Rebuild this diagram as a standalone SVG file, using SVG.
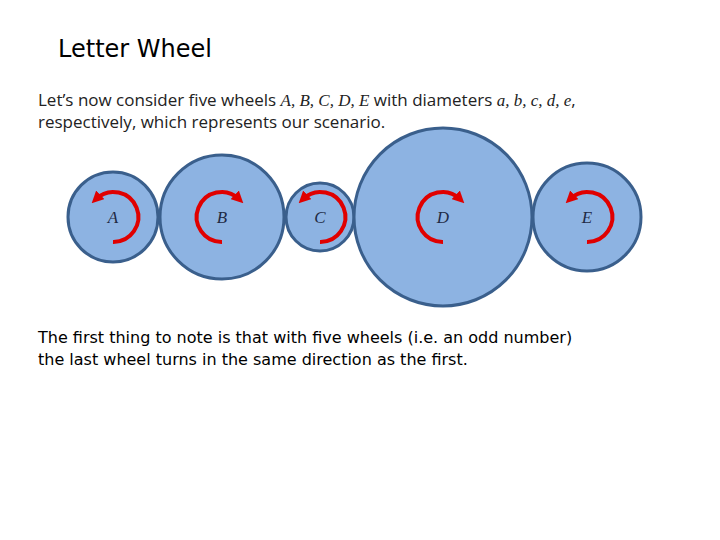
<svg xmlns="http://www.w3.org/2000/svg" width="720" height="540" viewBox="0 0 720 540">
<style>
.w{fill:#8db3e2;stroke:#3a5f8c;stroke-width:3}
.r{fill:none;stroke:#e00000;stroke-width:4}
.l{font-family:"Liberation Serif",serif;font-style:italic;font-size:17px;fill:#1f2a44;text-anchor:middle}
.t{font-family:"DejaVu Sans",sans-serif;font-size:16px;fill:#000}
.c{font-family:"Open Sans",sans-serif;font-size:17px;fill:#222}
.m{font-family:"Liberation Serif",serif;font-style:italic}
</style>
<defs>
<marker id="ah" viewBox="0 0 10 10" refX="5" refY="5" markerWidth="3" markerHeight="3" orient="auto"><path d="M0,0L10,5L0,10z" fill="#e00000"/></marker>
</defs>
<rect width="720" height="540" fill="#fff"/>
<text x="58" y="57" style="font-family:'DejaVu Sans',sans-serif;font-size:24px">Letter Wheel</text>
<text x="38" y="106" class="c">Let’s now consider five wheels <tspan class="m">A, B, C, D, E</tspan> with diameters <tspan class="m">a, b, c, d, e</tspan>,</text>
<text x="38" y="128" class="c">respectively, which represents our scenario.</text>
<g id="A"><circle class="w" cx="113" cy="217" r="45"/><path class="r" d="M113,242A25,25 0 1 0 96,199" marker-end="url(#ah)"/><text class="l" x="113" y="223">A</text></g>
<g id="B"><circle class="w" cx="222" cy="217" r="62"/><path class="r" d="M222,242A25,25 0 1 1 239,199" marker-end="url(#ah)"/><text class="l" x="222" y="223">B</text></g>
<g id="C"><circle class="w" cx="320" cy="217" r="34"/><path class="r" d="M320,242A25,25 0 1 0 303,199" marker-end="url(#ah)"/><text class="l" x="320" y="223">C</text></g>
<g id="D"><circle class="w" cx="443" cy="217" r="89"/><path class="r" d="M443,242A25,25 0 1 1 460,199" marker-end="url(#ah)"/><text class="l" x="443" y="223">D</text></g>
<g id="E"><circle class="w" cx="587" cy="217" r="54"/><path class="r" d="M587,242A25,25 0 1 0 570,199" marker-end="url(#ah)"/><text class="l" x="587" y="223">E</text></g>
<g id="connectors"/>
<text x="38" y="343" class="t">The first thing to note is that with five wheels (i.e. an odd number)</text>
<text x="38" y="365" class="t">the last wheel turns in the same direction as the first.</text>
</svg>
